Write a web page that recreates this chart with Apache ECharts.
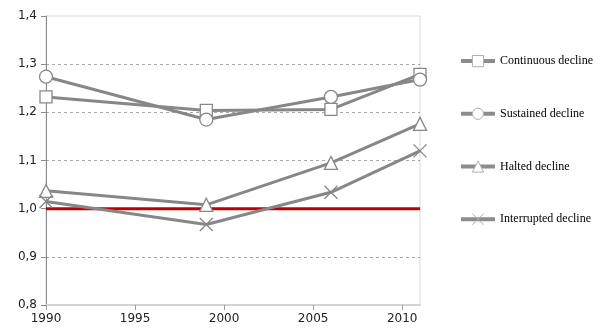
<!DOCTYPE html>
<html>
<head>
<meta charset="utf-8">
<script src="https://cdn.jsdelivr.net/npm/echarts@6/dist/echarts.min.js"></script>
<style>
html,body{margin:0;padding:0;background:#fff;}
#chart{width:600px;height:336px;}
</style>
</head>
<body>
<div id="chart"></div>
<script>
// Survey years and index values per trajectory type
const years = [1990, 1999, 2006, 2011];
const continuousDecline = [1.232, 1.204, 1.206, 1.279];
const sustainedDecline = [1.274, 1.185, 1.232, 1.268];
const haltedDecline = [1.037, 1.008, 1.095, 1.176];
const interruptedDecline = [1.015, 0.967, 1.034, 1.120];
const referenceLevel = [[1990, 1.0], [2011, 1.0]];
const xTicks = [1990, 1995, 2000, 2005, 2010];

const names = ['Continuous decline', 'Sustained decline', 'Halted decline', 'Interrupted decline'];
const values = [continuousDecline, sustainedDecline, haltedDecline, interruptedDecline];
const symbols = ['rect', 'circle', 'triangle', 'path://M0,0L10,10M10,0L0,10'];
const sizes = [12, 13, 13, 13];

const gray = '#878787';

const series = names.map((name, i) => ({
  name: name,
  type: 'line',
  data: years.map((y, j) => [y, values[i][j]]),
  symbol: symbols[i],
  symbolSize: sizes[i],
  showAllSymbol: true,
  lineStyle: { color: gray, width: 3 },
  itemStyle: { color: '#fff', borderColor: gray, borderWidth: 1.3 },
  emphasis: { disabled: true },
  z: 3
}));

series.push({
  name: 'reference',
  type: 'line',
  data: referenceLevel,
  symbol: 'none',
  lineStyle: { color: '#c00000', width: 3 },
  emphasis: { disabled: true },
  z: 2
});

const chart = echarts.init(document.getElementById('chart'), null, { renderer: 'canvas' });
chart.setOption({
  animation: false,
  backgroundColor: '#fff',
  grid: { left: 46, right: 180, top: 16, bottom: 31, containLabel: false, show: true, borderColor: '#d9d9d9', borderWidth: 1 },
  legend: {
    data: names,
    orient: 'vertical',
    left: 454,
    top: 50,
    itemWidth: 34,
    itemHeight: 14,
    itemGap: 40.5,
    lineStyle: { width: 4, color: '#8c8c8c' },
    itemStyle: { color: '#fff', borderColor: '#b0b0b0', borderWidth: 1 },
    textStyle: { fontFamily: 'Liberation Serif', fontSize: 12, color: '#000' },
    selectedMode: false
  },
  xAxis: {
    type: 'value',
    min: 1990,
    max: 2011,
    interval: 5,
    axisLine: { show: true, lineStyle: { color: '#d4d4d4', width: 2 } },
    axisTick: { show: true, length: 5, lineStyle: { color: '#a0a0a0' }, customValues: xTicks },
    axisLabel: {
      customValues: xTicks, fontFamily: 'DejaVu Sans', fontSize: 12, color: '#222', margin: 8,
      formatter: v => String(v)
    },
    splitLine: { show: false }
  },
  yAxis: {
    type: 'value',
    min: 0.8,
    max: 1.4,
    interval: 0.1,
    axisLine: { show: true, lineStyle: { color: '#8a8a8a', width: 1 } },
    axisTick: { show: true, length: 5, lineStyle: { color: '#8a8a8a' } },
    axisLabel: {
      fontFamily: 'DejaVu Sans', fontSize: 12, color: '#222', margin: 9,
      formatter: v => v.toFixed(1).replace('.', ',')
    },
    splitLine: { show: true, showMinLine: false, showMaxLine: false, lineStyle: { color: '#a8a8a8', type: [3, 3], width: 1 } }
  },
  series: series
});
</script>
</body>
</html>
